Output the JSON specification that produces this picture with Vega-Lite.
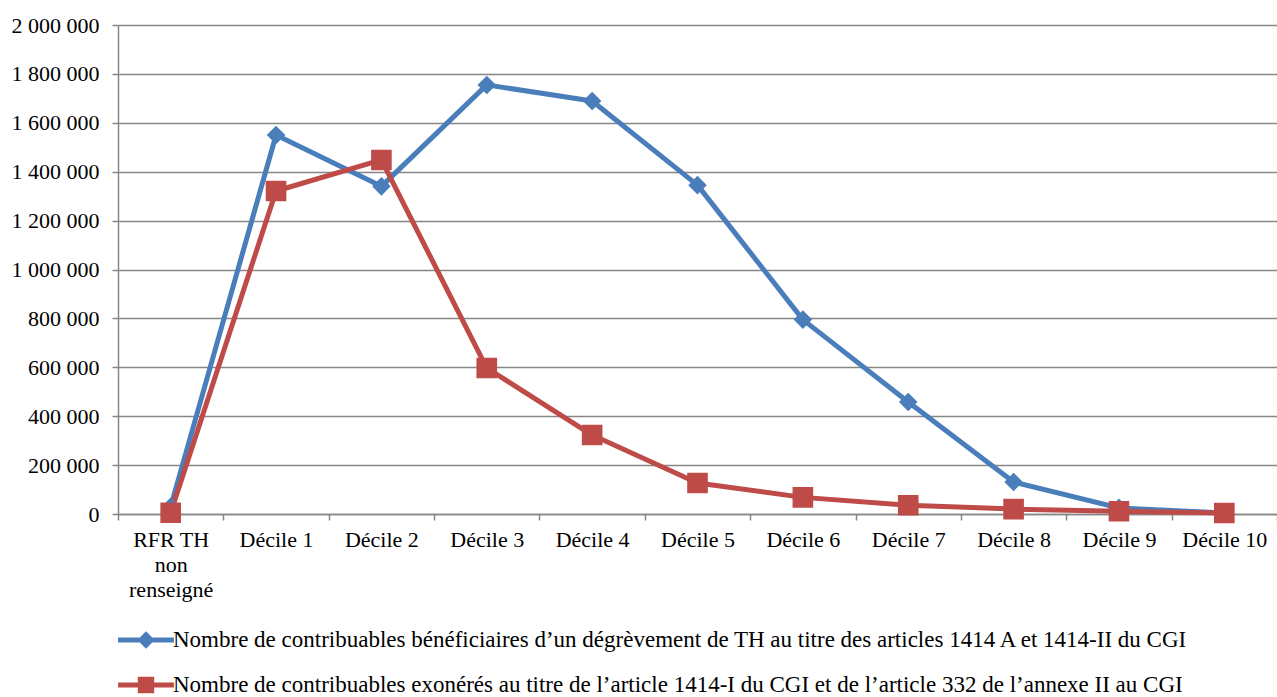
{
  "$schema": "https://vega.github.io/schema/vega-lite/v6.json",
  "autosize": "none",
  "width": 1159,
  "height": 489,
  "padding": {"left": 118, "top": 25, "right": 0, "bottom": 183},
  "background": "white",
  "config": {
    "locale": {
      "number": {"decimal": ",", "thousands": " ", "grouping": [3], "currency": ["", " €"]}
    },
    "font": "Liberation Serif",
    "view": {"stroke": null},
    "axis": {
      "labelFont": "Liberation Serif",
      "labelFontSize": 22,
      "labelColor": "#000000",
      "domainColor": "#868686",
      "domainWidth": 1.5,
      "tickColor": "#868686",
      "tickWidth": 1.5,
      "tickSize": 6,
      "gridColor": "#868686",
      "gridWidth": 1.5,
      "title": null
    },
    "legend": {
      "labelFont": "Liberation Serif",
      "labelFontSize": 23,
      "labelColor": "#000000",
      "symbolStrokeWidth": 5
    }
  },
  "data": {
    "values": [
      {"categorie": "RFR TH non renseigné", "serie": "Nombre de contribuables bénéficiaires d’un dégrèvement de TH au titre des articles 1414 A et 1414-II du CGI", "valeur": 30000},
      {"categorie": "Décile 1", "serie": "Nombre de contribuables bénéficiaires d’un dégrèvement de TH au titre des articles 1414 A et 1414-II du CGI", "valeur": 1550000},
      {"categorie": "Décile 2", "serie": "Nombre de contribuables bénéficiaires d’un dégrèvement de TH au titre des articles 1414 A et 1414-II du CGI", "valeur": 1340000},
      {"categorie": "Décile 3", "serie": "Nombre de contribuables bénéficiaires d’un dégrèvement de TH au titre des articles 1414 A et 1414-II du CGI", "valeur": 1755000},
      {"categorie": "Décile 4", "serie": "Nombre de contribuables bénéficiaires d’un dégrèvement de TH au titre des articles 1414 A et 1414-II du CGI", "valeur": 1689000},
      {"categorie": "Décile 5", "serie": "Nombre de contribuables bénéficiaires d’un dégrèvement de TH au titre des articles 1414 A et 1414-II du CGI", "valeur": 1345000},
      {"categorie": "Décile 6", "serie": "Nombre de contribuables bénéficiaires d’un dégrèvement de TH au titre des articles 1414 A et 1414-II du CGI", "valeur": 795000},
      {"categorie": "Décile 7", "serie": "Nombre de contribuables bénéficiaires d’un dégrèvement de TH au titre des articles 1414 A et 1414-II du CGI", "valeur": 458000},
      {"categorie": "Décile 8", "serie": "Nombre de contribuables bénéficiaires d’un dégrèvement de TH au titre des articles 1414 A et 1414-II du CGI", "valeur": 131000},
      {"categorie": "Décile 9", "serie": "Nombre de contribuables bénéficiaires d’un dégrèvement de TH au titre des articles 1414 A et 1414-II du CGI", "valeur": 25000},
      {"categorie": "Décile 10", "serie": "Nombre de contribuables bénéficiaires d’un dégrèvement de TH au titre des articles 1414 A et 1414-II du CGI", "valeur": 4000},
      {"categorie": "RFR TH non renseigné", "serie": "Nombre de contribuables exonérés au titre de l’article 1414-I du CGI et de l’article 332 de l’annexe II au CGI", "valeur": 5000},
      {"categorie": "Décile 1", "serie": "Nombre de contribuables exonérés au titre de l’article 1414-I du CGI et de l’article 332 de l’annexe II au CGI", "valeur": 1321000},
      {"categorie": "Décile 2", "serie": "Nombre de contribuables exonérés au titre de l’article 1414-I du CGI et de l’article 332 de l’annexe II au CGI", "valeur": 1448000},
      {"categorie": "Décile 3", "serie": "Nombre de contribuables exonérés au titre de l’article 1414-I du CGI et de l’article 332 de l’annexe II au CGI", "valeur": 597000},
      {"categorie": "Décile 4", "serie": "Nombre de contribuables exonérés au titre de l’article 1414-I du CGI et de l’article 332 de l’annexe II au CGI", "valeur": 323000},
      {"categorie": "Décile 5", "serie": "Nombre de contribuables exonérés au titre de l’article 1414-I du CGI et de l’article 332 de l’annexe II au CGI", "valeur": 127000},
      {"categorie": "Décile 6", "serie": "Nombre de contribuables exonérés au titre de l’article 1414-I du CGI et de l’article 332 de l’annexe II au CGI", "valeur": 68000},
      {"categorie": "Décile 7", "serie": "Nombre de contribuables exonérés au titre de l’article 1414-I du CGI et de l’article 332 de l’annexe II au CGI", "valeur": 36000},
      {"categorie": "Décile 8", "serie": "Nombre de contribuables exonérés au titre de l’article 1414-I du CGI et de l’article 332 de l’annexe II au CGI", "valeur": 20000},
      {"categorie": "Décile 9", "serie": "Nombre de contribuables exonérés au titre de l’article 1414-I du CGI et de l’article 332 de l’annexe II au CGI", "valeur": 11000},
      {"categorie": "Décile 10", "serie": "Nombre de contribuables exonérés au titre de l’article 1414-I du CGI et de l’article 332 de l’annexe II au CGI", "valeur": 4000}
    ]
  },
  "encoding": {
    "x": {
      "field": "categorie",
      "type": "nominal",
      "sort": null,
      "scale": {"type": "band", "paddingInner": 0, "paddingOuter": 0},
      "axis": {
        "labelAngle": 0,
        "tickBand": "extent",
        "labelPadding": 9,
        "labelLineHeight": 25,
        "labelBaseline": "top",
        "labelExpr": "datum.value == 'RFR TH non renseigné' ? ['RFR TH', 'non', 'renseigné'] : datum.value"
      }
    },
    "y": {
      "field": "valeur",
      "type": "quantitative",
      "scale": {"domain": [0, 2000000], "nice": false},
      "axis": {"format": ",d", "tickCount": 10, "grid": true, "labelPadding": 13}
    }
  },
  "layer": [
    {
      "mark": {"type": "line", "strokeWidth": 5, "strokeJoin": "round", "strokeCap": "round"},
      "encoding": {
        "color": {
          "field": "serie",
          "type": "nominal",
          "sort": null,
          "scale": {"range": ["#4A7EBB", "#BE4B48"]},
          "legend": null
        }
      }
    },
    {
      "mark": {"type": "point", "filled": true, "size": 1700, "strokeWidth": 0, "opacity": 1},
      "encoding": {
        "fill": {
          "field": "serie",
          "type": "nominal",
          "sort": null,
          "scale": {"range": ["#4A7EBB", "#BE4B48"]},
          "legend": {
            "title": null,
            "orient": "bottom",
            "direction": "vertical",
            "symbolSize": 520,
            "labelOffset": 13,
            "rowPadding": 13,
            "labelLimit": 1200,
            "padding": 14,
            "offset": 12
          }
        },
        "stroke": {
          "field": "serie",
          "type": "nominal",
          "sort": null,
          "scale": {"range": ["#4A7EBB", "#BE4B48"]},
          "legend": {
            "title": null,
            "orient": "bottom",
            "direction": "vertical",
            "symbolSize": 520,
            "labelOffset": 13,
            "rowPadding": 13,
            "labelLimit": 1200,
            "padding": 14,
            "offset": 12
          }
        },
        "shape": {
          "field": "serie",
          "type": "nominal",
          "sort": null,
          "scale": {
            "range": [
              "M-2.45,0H2.45M0,-0.45L0.45,0L0,0.45L-0.45,0Z",
              "M-2.45,0H2.45M-0.5,-0.5H0.5V0.5H-0.5Z"
            ]
          },
          "legend": {
            "title": null,
            "orient": "bottom",
            "direction": "vertical",
            "symbolSize": 520,
            "labelOffset": 13,
            "rowPadding": 13,
            "labelLimit": 1200,
            "padding": 14,
            "offset": 12
          }
        }
      }
    }
  ]
}
